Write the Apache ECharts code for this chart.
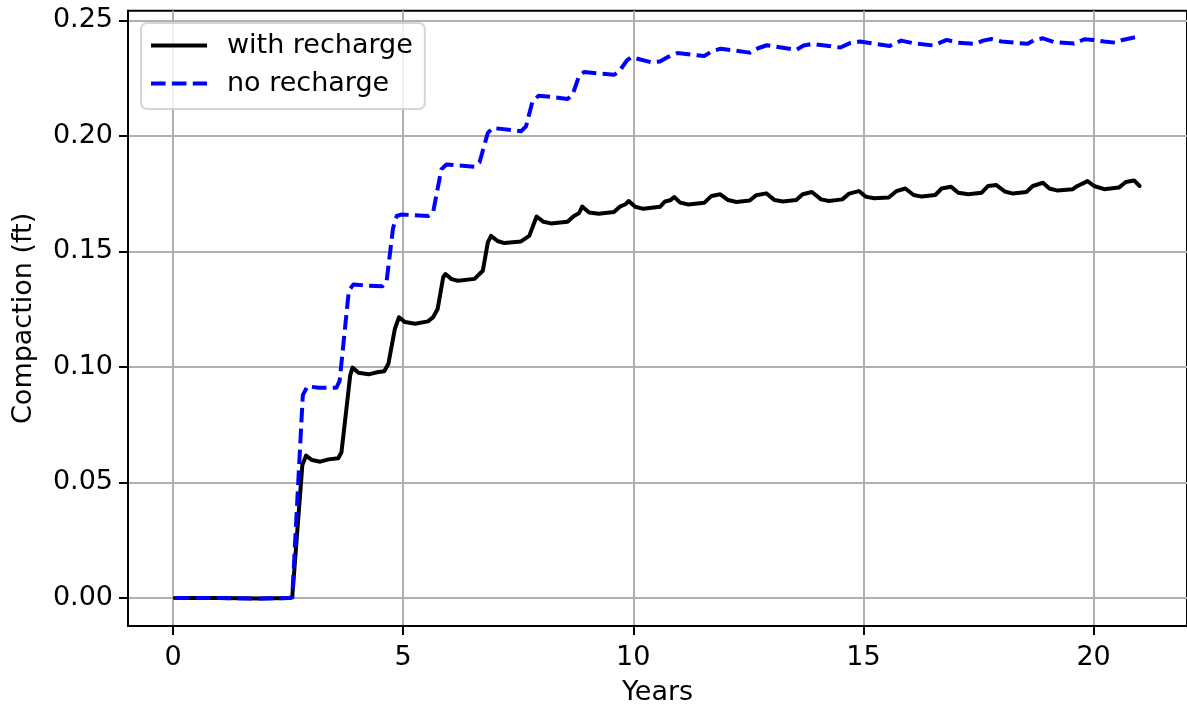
<!DOCTYPE html>
<html>
<head>
<meta charset="utf-8">
<script src="https://cdn.jsdelivr.net/npm/echarts@6/dist/echarts.min.js"></script>
<style>
  html, body { margin: 0; padding: 0; background: #ffffff; }
  #chart { width: 1187px; height: 711px; }
</style>
</head>
<body>
<div id="chart"></div>
<script>
// Cumulative compaction (ft) over time (years), two pumping scenarios.
const withRechargeYears = [
  0.04, 1.0, 1.87, 2.52, 2.59, 2.81, 2.89, 3.02, 3.2, 3.38, 3.59, 3.66, 3.85, 3.90,
  4.03, 4.25, 4.46, 4.59, 4.68, 4.82, 4.91, 5.04, 5.26, 5.54, 5.65, 5.75, 5.87, 5.92,
  6.05, 6.19, 6.55, 6.73, 6.84, 6.91, 7.05, 7.20, 7.56, 7.74, 7.85, 7.90, 8.05, 8.21,
  8.57, 8.71, 8.82, 8.89, 9.04, 9.25, 9.58, 9.72, 9.83, 9.90, 10.04, 10.22, 10.58,
  10.69, 10.80, 10.89, 11.02, 11.20, 11.54, 11.70, 11.89, 12.06, 12.24, 12.53, 12.67,
  12.89, 13.07, 13.25, 13.54, 13.68, 13.88, 14.08, 14.25, 14.54, 14.69, 14.90, 15.05,
  15.23, 15.55, 15.72, 15.91, 16.09, 16.27, 16.56, 16.70, 16.90, 17.06, 17.28, 17.57,
  17.71, 17.89, 18.07, 18.25, 18.54, 18.68, 18.90, 19.04, 19.22, 19.55, 19.64, 19.87,
  20.01, 20.23, 20.55, 20.70, 20.88, 21.00
];
const withRechargeValues = [
  0.0, 0.0, -0.0002, 0.0, 0.0003, 0.0576, 0.0616, 0.0597, 0.0590, 0.0600, 0.0605, 0.0631, 0.0964, 0.0997,
  0.0975, 0.0968, 0.0978, 0.0981, 0.1014, 0.1165, 0.1215, 0.1194, 0.1187, 0.1197, 0.1215, 0.1251, 0.1388, 0.1402,
  0.1380, 0.1373, 0.1381, 0.1416, 0.1539, 0.1567, 0.1545, 0.1536, 0.1543, 0.1567, 0.1625, 0.1651, 0.1628, 0.1621,
  0.1628, 0.1653, 0.1665, 0.1694, 0.1668, 0.1663, 0.1670, 0.1695, 0.1704, 0.1718, 0.1693, 0.1684, 0.1693,
  0.1716, 0.1721, 0.1735, 0.1711, 0.1703, 0.1710, 0.1740, 0.1747, 0.1722, 0.1714, 0.1720, 0.1743,
  0.1751, 0.1722, 0.1716, 0.1722, 0.1747, 0.1757, 0.1725, 0.1718, 0.1725, 0.1750, 0.1761, 0.1737,
  0.1730, 0.1733, 0.1761, 0.1772, 0.1744, 0.1737, 0.1744, 0.1772, 0.1780, 0.1754, 0.1747, 0.1754,
  0.1783, 0.1787, 0.1759, 0.1750, 0.1757, 0.1783, 0.1797, 0.1772, 0.1763, 0.1769, 0.1782, 0.1804,
  0.1783, 0.1769, 0.1776, 0.1800, 0.1807, 0.1783
];

const noRechargeYears = [
  0.04, 1.0, 1.87, 2.52, 2.59, 2.82, 2.92, 3.17, 3.55, 3.62, 3.82, 3.92, 4.18, 4.55,
  4.64, 4.78, 4.86, 4.97, 5.26, 5.54, 5.65, 5.83, 5.94, 6.55, 6.66, 6.84, 6.95, 7.56,
  7.67, 7.81, 7.94, 8.24, 8.57, 8.68, 8.82, 8.93, 9.58, 9.69, 9.86, 9.96, 10.40, 10.58,
  10.76, 10.96, 11.54, 11.70, 11.90, 12.53, 12.71, 12.90, 13.54, 13.70, 13.89, 14.50,
  14.72, 14.92, 15.57, 15.82, 16.10, 16.52, 16.81, 17.06, 17.42, 17.60, 17.78, 18.00,
  18.57, 18.72, 18.90, 19.15, 19.58, 19.80, 20.01, 20.23, 20.48, 20.63, 20.92, 21.00
];
const noRechargeValues = [
  0.0, 0.0, -0.0002, 0.0, 0.0003, 0.0878, 0.0916, 0.0910, 0.0910, 0.0940, 0.1330, 0.1357, 0.1352, 0.1349,
  0.1370, 0.1600, 0.1653, 0.1660, 0.1656, 0.1653, 0.1668, 0.1855, 0.1876, 0.1866, 0.1886, 0.2013, 0.2034, 0.2020,
  0.2041, 0.2149, 0.2173, 0.2168, 0.2159, 0.2178, 0.2257, 0.2276, 0.2264, 0.2278, 0.2326, 0.2340, 0.2318, 0.2322,
  0.2342, 0.2358, 0.2345, 0.2365, 0.2377, 0.2360, 0.2379, 0.2392, 0.2372, 0.2391, 0.2398, 0.2382,
  0.2402, 0.2408, 0.2389, 0.2412, 0.2400, 0.2391, 0.2415, 0.2403, 0.2398, 0.2412, 0.2419, 0.2408,
  0.2398, 0.2415, 0.2422, 0.2405, 0.2399, 0.2418, 0.2415, 0.2408, 0.2403, 0.2415, 0.2427, 0.2428
];

const seriesNames = ['with recharge', 'no recharge'];
const xTickValues = [0, 5, 10, 15, 20];
const yTickValues = [0, 0.05, 0.10, 0.15, 0.20, 0.25];

const FONT = 'DejaVu Sans';
const FONT_SIZE = 27;
const zip = (xs, ys) => xs.map((x, i) => [x, ys[i]]);

// Legend handles: a solid stroke and a three-dash stroke, 56 x 4 px.
const SOLID_ICON = 'path://M0,0h56v4h-56z';
const DASHED_ICON = 'path://M0,0h14.6v4h-14.6z M20.9,0h14.6v4h-14.6z M41.8,0h14.2v4h-14.2z';

const chart = echarts.init(document.getElementById('chart'), null, { renderer: 'canvas' });

chart.setOption({
  animation: false,
  backgroundColor: '#ffffff',
  textStyle: { fontFamily: FONT },
  grid: {
    left: 128,
    top: 10.8,
    width: 1065.3,
    height: 617.5,
    show: true,
    borderColor: '#000000',
    borderWidth: 2,
    backgroundColor: 'transparent'
  },
  legend: {
    orient: 'vertical',
    left: 141,
    top: 23,
    padding: [9, 12, 12, 10],
    itemGap: 11,
    itemWidth: 56,
    itemHeight: 4,
    backgroundColor: 'rgba(255,255,255,0.8)',
    borderColor: 'rgba(204,204,204,0.8)',
    borderWidth: 2,
    borderRadius: 6,
    textStyle: {
      fontFamily: FONT,
      fontSize: FONT_SIZE,
      color: '#000000',
      padding: [0, 0, 0, 15]
    },
    data: [
      { name: seriesNames[0], icon: SOLID_ICON, itemStyle: { color: '#000000' } },
      { name: seriesNames[1], icon: DASHED_ICON, itemStyle: { color: '#0000ff' } }
    ]
  },
  xAxis: {
    type: 'value',
    min: -0.978,
    max: 22.03,
    name: 'Years',
    nameLocation: 'middle',
    nameGap: 53,
    nameTextStyle: { fontFamily: FONT, fontSize: FONT_SIZE, color: '#000000' },
    axisLine: { show: true, onZero: false, lineStyle: { color: '#000000', width: 2 } },
    axisTick: {
      show: true, inside: false, length: 9,
      customValues: xTickValues,
      lineStyle: { color: '#000000', width: 2 }
    },
    axisLabel: {
      customValues: xTickValues,
      margin: 18,
      fontFamily: FONT, fontSize: FONT_SIZE, color: '#000000',
      formatter: v => String(v)
    },
    splitLine: { show: true, lineStyle: { color: '#b0b0b0', width: 2 } }
  },
  yAxis: {
    type: 'value',
    min: -0.0121,
    max: 0.2541,
    name: 'Compaction (ft)',
    nameLocation: 'middle',
    nameGap: 91,
    nameRotate: 90,
    nameTextStyle: { fontFamily: FONT, fontSize: FONT_SIZE, color: '#000000' },
    axisLine: { show: true, onZero: false, lineStyle: { color: '#000000', width: 2 } },
    axisTick: {
      show: true, inside: false, length: 9,
      customValues: yTickValues,
      lineStyle: { color: '#000000', width: 2 }
    },
    axisLabel: {
      customValues: yTickValues,
      margin: 15,
      fontFamily: FONT, fontSize: FONT_SIZE, color: '#000000',
      formatter: v => v.toFixed(2)
    },
    splitLine: { show: true, lineStyle: { color: '#b0b0b0', width: 2 } }
  },
  series: [
    {
      name: seriesNames[0],
      type: 'line',
      data: zip(withRechargeYears, withRechargeValues),
      showSymbol: false,
      symbol: 'none',
      smooth: false,
      lineStyle: { color: '#000000', width: 4, join: 'round', cap: 'round' },
      itemStyle: { color: '#000000' },
      z: 3
    },
    {
      name: seriesNames[1],
      type: 'line',
      data: zip(noRechargeYears, noRechargeValues),
      showSymbol: false,
      symbol: 'none',
      smooth: false,
      lineStyle: { color: '#0000ff', width: 4, type: [14.6, 6.3], join: 'round', cap: 'butt' },
      itemStyle: { color: '#0000ff' },
      z: 4
    }
  ]
});
</script>
</body>
</html>
